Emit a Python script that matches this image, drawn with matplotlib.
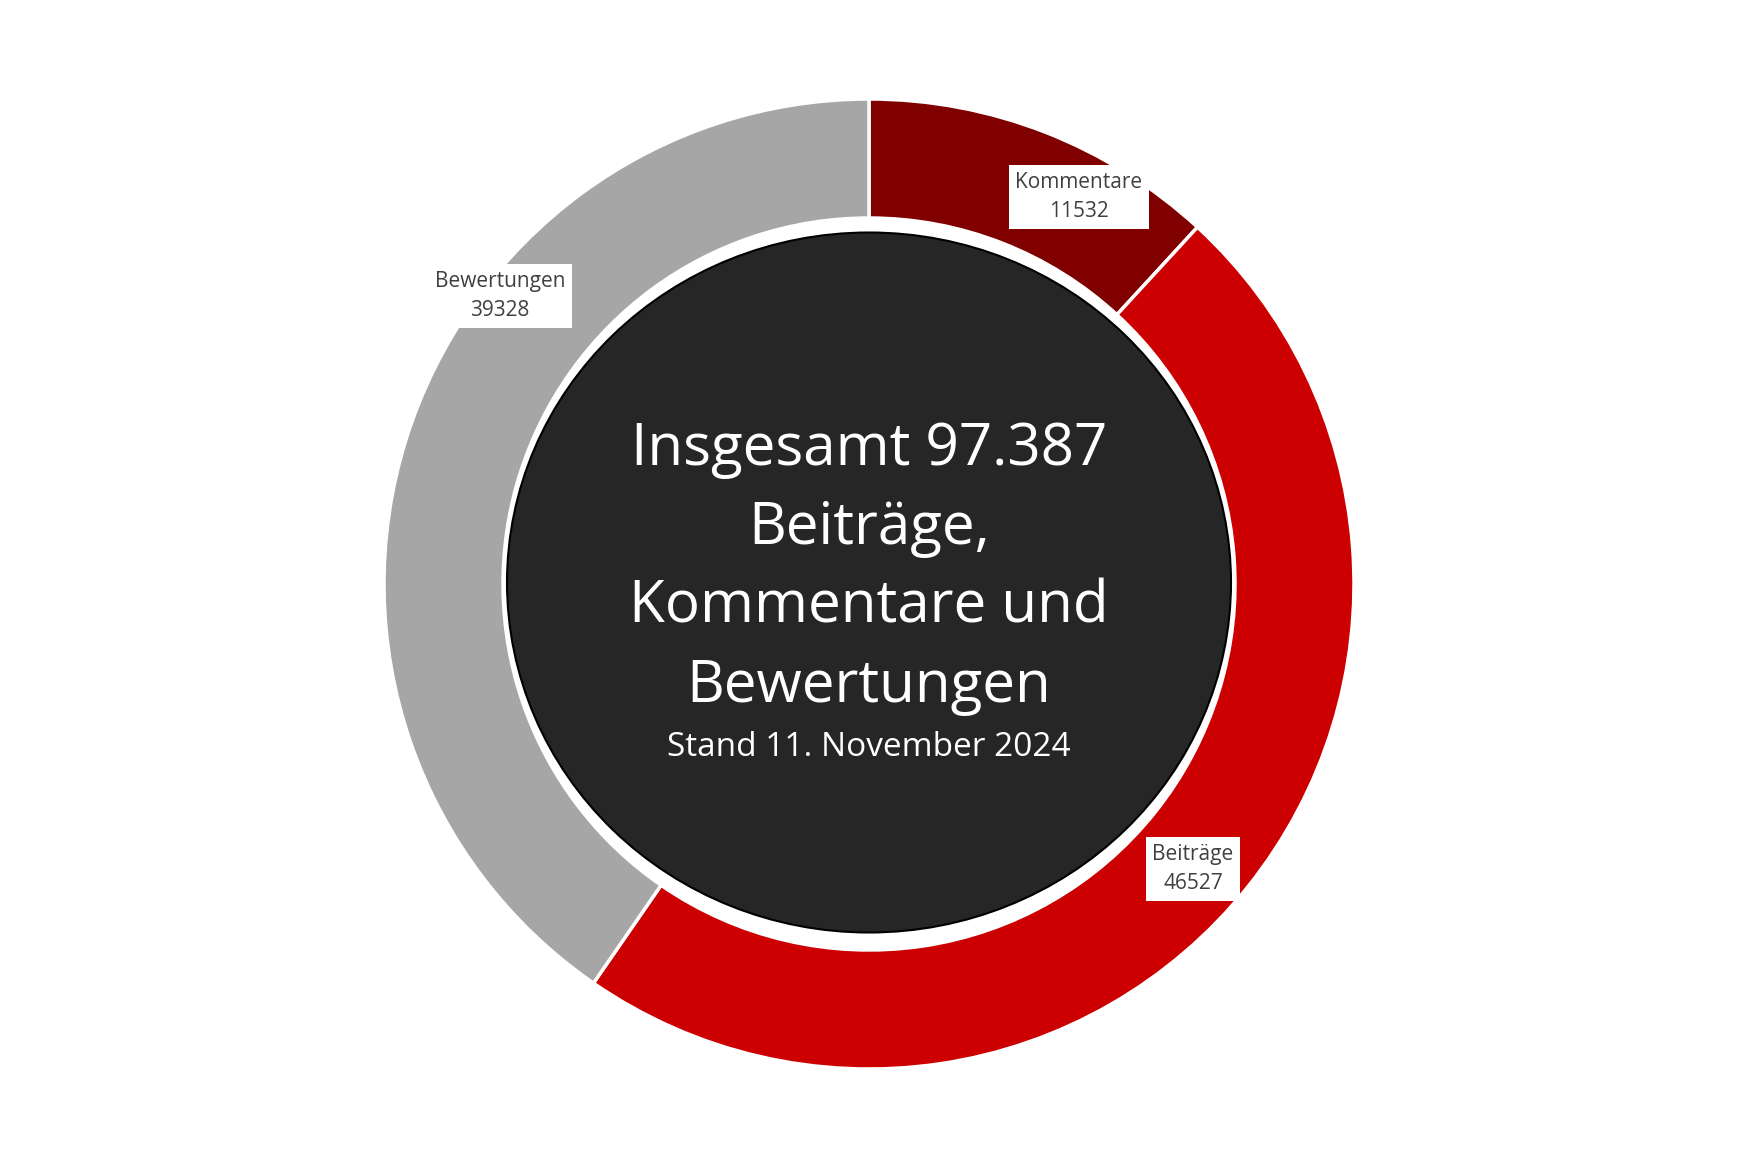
import matplotlib
matplotlib.use("Agg")
from matplotlib import pyplot as plt
from matplotlib.patches import Ellipse

plt.rcParams['font.family'] = ['Open Sans', 'DejaVu Sans']

# data
categories = ["Kommentare", "Beiträge", "Bewertungen"]
values = [11532, 46527, 39328]
colors = ["#800000", "#cc0000", "#a6a6a6"]
label_pos = [(1079, 197), (1193, 869), (500, 296)]  # pixel coords (from top)

W, H = 1752, 1166
cx, cy = 869, H - 584
r_out, r_in = 485, 366

fig = plt.figure(figsize=(W / 100, H / 100), dpi=100)
ax = fig.add_axes([0, 0, 1, 1])

ax.pie(values, colors=colors, startangle=90, counterclock=False,
       center=(cx, cy), radius=r_out, frame=True,
       wedgeprops=dict(width=r_out - r_in, edgecolor="white", linewidth=2.5))
ax.set_xlim(0, W)
ax.set_ylim(0, H)
ax.set_aspect("equal")
ax.axis("off")

# dark centre, slightly wider than tall like the original
ax.add_patch(Ellipse((cx, H - 582.5), 724, 700, facecolor="#262626",
                     edgecolor="black", linewidth=1.5, zorder=3))

for name, val, (x, y) in zip(categories, values, label_pos):
    ax.text(x, H - y, f"{name}\n{val}", ha="center", va="center", fontsize=15,
            color="#404040", linespacing=1.55, zorder=5,
            bbox=dict(boxstyle="square,pad=0.3", facecolor="white", edgecolor="none"))

ax.text(cx, H - 568, "Insgesamt 97.387\nBeiträge,\nKommentare und\nBewertungen",
        ha="center", va="center", fontsize=42, color="white", linespacing=1.46, zorder=4)
ax.text(cx, H - 747, "Stand 11. November 2024", ha="center", va="center",
        fontsize=24, color="white", zorder=4)

plt.savefig("out.png", dpi=100)
